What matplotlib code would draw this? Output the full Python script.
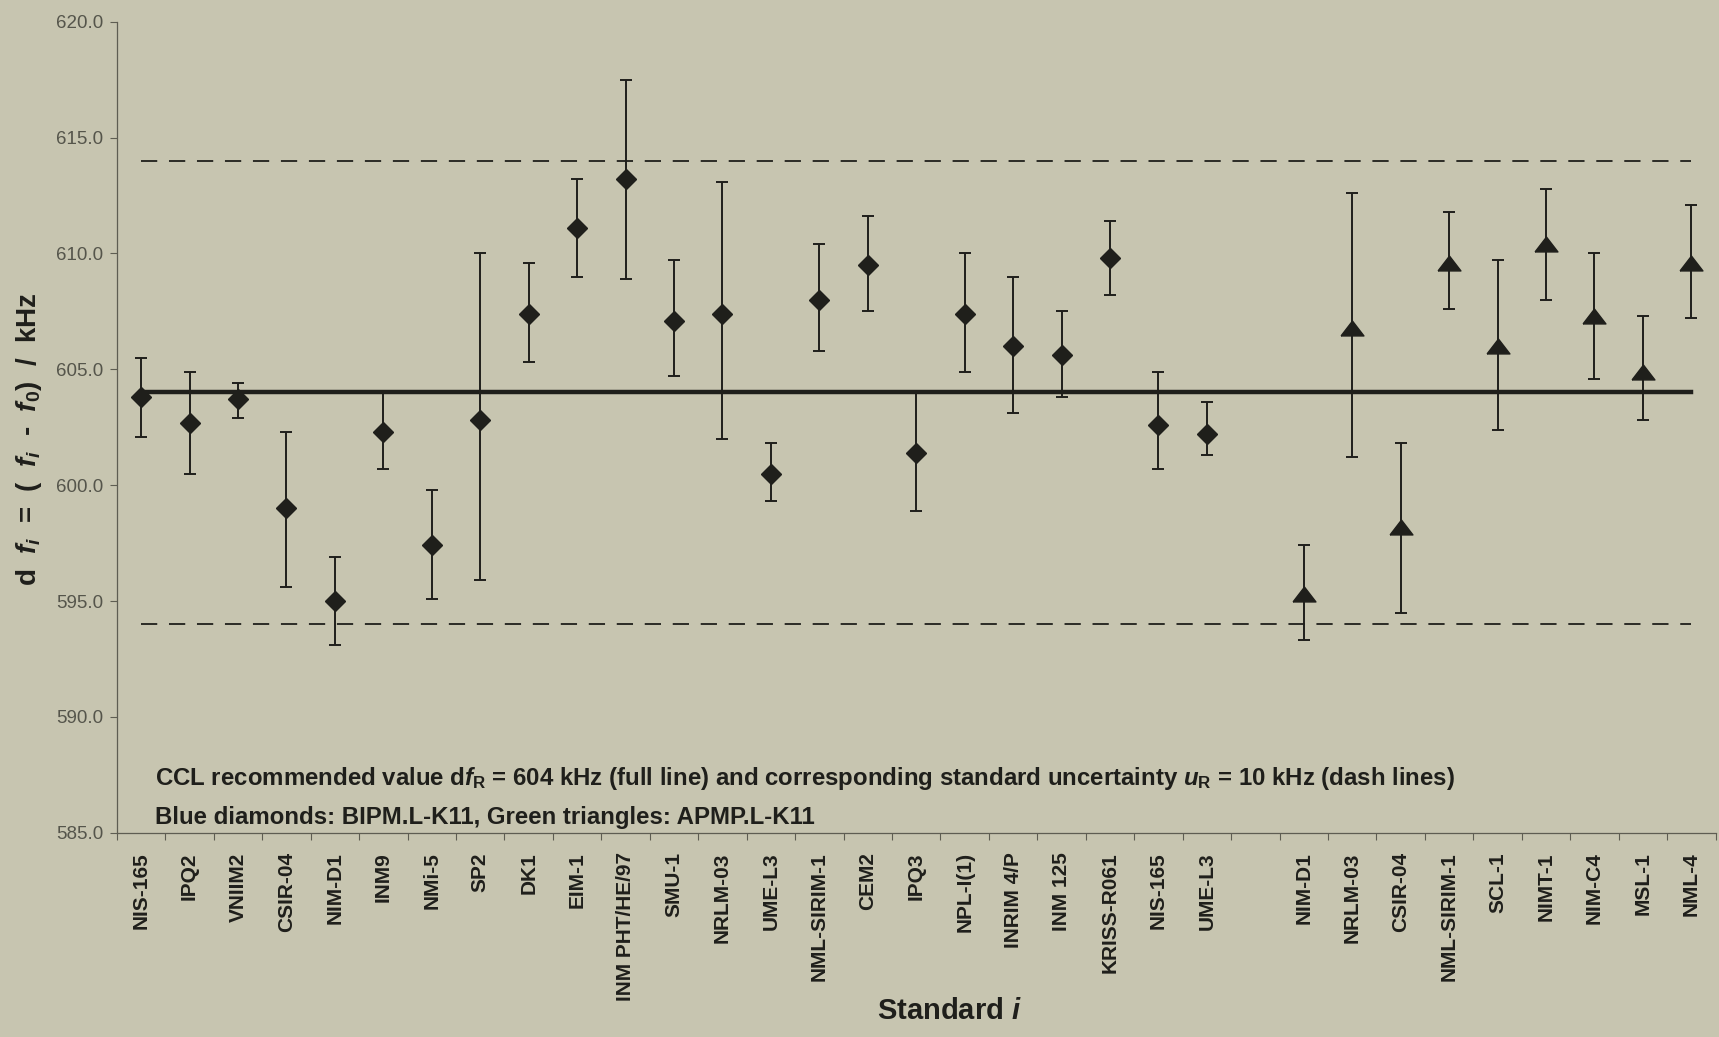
import numpy as np
import matplotlib
matplotlib.use('Agg')
import matplotlib.pyplot as plt
from matplotlib.ticker import FixedLocator, FormatStrFormatter

# BIPM.L-K11 results (diamonds)
bipm_labels = ['NIS-165', 'IPQ2', 'VNIIM2', 'CSIR-04', 'NIM-D1', 'INM9', 'NMi-5', 'SP2',
               'DK1', 'EIM-1', 'INM PHT/HE/97', 'SMU-1', 'NRLM-03', 'UME-L3',
               'NML-SIRIM-1', 'CEM2', 'IPQ3', 'NPL-I(1)', 'INRIM 4/P', 'INM 125',
               'KRISS-R061', 'NIS-165', 'UME-L3']
bipm_values = [603.8, 602.7, 603.7, 599.0, 595.0, 602.3, 597.4, 602.8,
               607.4, 611.1, 613.2, 607.1, 607.4, 600.5,
               608.0, 609.5, 601.4, 607.4, 606.0, 605.6,
               609.8, 602.6, 602.2]
bipm_upper = [605.5, 604.9, 604.4, 602.3, 596.9, 604.0, 599.8, 610.0,
              609.6, 613.2, 617.5, 609.7, 613.1, 601.8,
              610.4, 611.6, 604.0, 610.0, 609.0, 607.5,
              611.4, 604.9, 603.6]
bipm_lower = [602.1, 600.5, 602.9, 595.6, 593.1, 600.7, 595.1, 595.9,
              605.3, 609.0, 608.9, 604.7, 602.0, 599.3,
              605.8, 607.5, 598.9, 604.9, 603.1, 603.8,
              608.2, 600.7, 601.3]

# APMP.L-K11 results (triangles)
apmp_labels = ['NIM-D1', 'NRLM-03', 'CSIR-04', 'NML-SIRIM-1', 'SCL-1', 'NIMT-1',
               'NIM-C4', 'MSL-1', 'NML-4']
apmp_values = [595.3, 606.8, 598.2, 609.6, 606.0, 610.4, 607.3, 604.9, 609.6]
apmp_upper = [597.4, 612.6, 601.8, 611.8, 609.7, 612.8, 610.0, 607.3, 612.1]
apmp_lower = [593.3, 601.2, 594.5, 607.6, 602.4, 608.0, 604.6, 602.8, 607.2]

# CCL recommended value and its standard uncertainty
ref_value = 604.0
ref_unc = 10.0

y_ticks = [585.0, 590.0, 595.0, 600.0, 605.0, 610.0, 615.0, 620.0]

categories = bipm_labels + [''] + apmp_labels

ink = '#1f1f1b'
paper = '#c7c5b0'

plt.rcParams['font.family'] = ['Liberation Sans', 'DejaVu Sans']
plt.rcParams['mathtext.fontset'] = 'custom'
plt.rcParams['mathtext.rm'] = 'Liberation Sans:bold'
plt.rcParams['mathtext.it'] = 'Liberation Sans:italic:bold'
plt.rcParams['mathtext.bf'] = 'Liberation Sans:bold'
plt.rcParams['mathtext.sf'] = 'Liberation Sans:bold'

fig = plt.figure(figsize=(17.19, 10.37), dpi=100, facecolor=paper)
ax = fig.add_axes([0.068, 0.197, 0.93, 0.782])
ax.set_facecolor(paper)

x_bipm = np.arange(1, len(bipm_labels) + 1)
x_apmp = np.arange(len(bipm_labels) + 2, len(categories) + 1)
x_all = np.arange(1, len(categories) + 1)

# reference line and +/- uncertainty
ax.plot([x_all[0], x_all[-1]], [ref_value, ref_value], color=ink, lw=3.2, zorder=2)
for level in (ref_value + ref_unc, ref_value - ref_unc):
    ax.plot([x_all[0], x_all[-1]], [level, level], color=ink, lw=1.3,
            linestyle=(0, (9, 6.5)), zorder=2)

bv = np.array(bipm_values)
ax.errorbar(x_bipm, bv, yerr=[bv - np.array(bipm_lower), np.array(bipm_upper) - bv],
            fmt='D', ms=10.5, color=ink, ecolor=ink, elinewidth=1.4,
            capsize=4.5, capthick=1.4, zorder=3)

tri = [(-1, -0.65), (1, -0.65), (0, 0.65), (-1, -0.65)]
av = np.array(apmp_values)
ax.errorbar(x_apmp, av, yerr=[av - np.array(apmp_lower), np.array(apmp_upper) - av],
            fmt='none', ecolor=ink, elinewidth=1.4, capsize=4.5, capthick=1.4, zorder=3)
ax.plot(x_apmp, av, linestyle='none', marker=tri, ms=16.5, color=ink, zorder=4)

ax.set_xlim(0.5, len(categories) + 0.5)
ax.set_ylim(585, 620)

ax.set_yticks(y_ticks)
ax.yaxis.set_major_formatter(FormatStrFormatter('%.1f'))
ax.tick_params(axis='y', direction='out', length=5, width=0.8, color='#5e5d52',
               labelsize=13.5, labelcolor='#55554b', pad=5)

ax.set_xticks(x_all)
ax.set_xticklabels(categories, rotation=90, fontsize=15, fontweight='bold', color=ink,
                   va='top')
ax.xaxis.set_minor_locator(FixedLocator(np.arange(0.5, len(categories) + 1, 1.0)))
ax.tick_params(axis='x', which='major', length=0, pad=14)
ax.tick_params(axis='x', which='minor', direction='out', length=5, width=0.8,
               color='#5e5d52')

for side in ('top', 'right'):
    ax.spines[side].set_visible(False)
for side in ('left', 'bottom'):
    ax.spines[side].set_color('#5e5d52')
    ax.spines[side].set_linewidth(0.9)

fig.text(0.017, 0.577, r'd  $f_i$  =  (  $f_i$  -  $f_0$)  /  kHz', rotation=90,
         ha='center', va='center', fontsize=20, fontweight='bold', color=ink)
fig.text(0.51, 0.025, r'Standard $i$', ha='left', va='center', fontsize=21,
         fontweight='bold', color=ink)

fig.text(0.09, 0.249,
         r'CCL recommended value d$f_\mathrm{R}$ = 604 kHz (full line) and corresponding '
         r'standard uncertainty $u_\mathrm{R}$ = 10 kHz (dash lines)',
         ha='left', va='center', fontsize=17.3, fontweight='bold', color=ink)
fig.text(0.09, 0.212, 'Blue diamonds: BIPM.L-K11, Green triangles: APMP.L-K11',
         ha='left', va='center', fontsize=17.3, fontweight='bold', color=ink)

fig.savefig('out.png', dpi=100, facecolor=paper)
